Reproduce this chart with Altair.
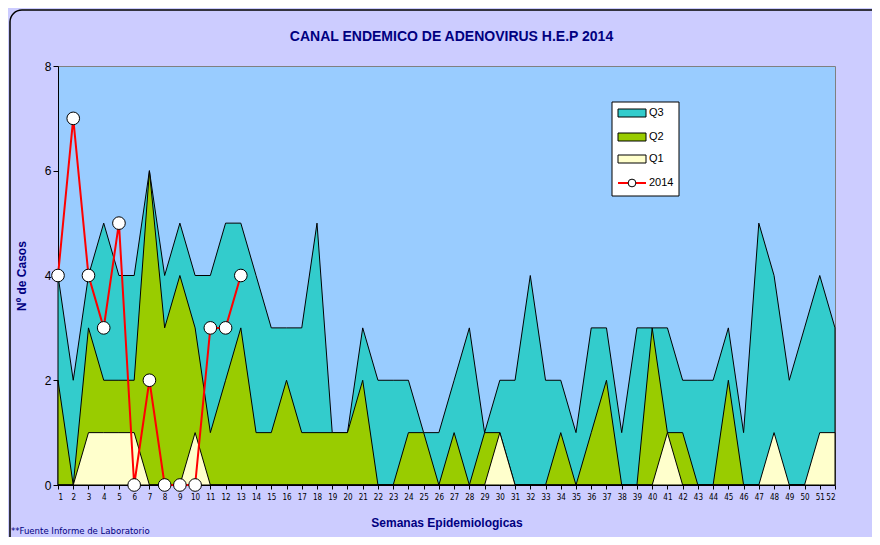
import altair as alt
import pandas as pd

weeks = list(range(1, 53))
q3 = [4, 2, 4, 5, 4, 4, 6, 4, 5, 4, 4, 5, 5, 4, 3, 3, 3, 5, 1, 1,
      3, 2, 2, 2, 1, 1, 2, 3, 1, 2, 2, 4, 2, 2, 1, 3, 3, 1, 3, 3,
      3, 2, 2, 2, 3, 1, 5, 4, 2, 3, 4, 3]
q2 = [2, 0, 3, 2, 2, 2, 6, 3, 4, 3, 1, 2, 3, 1, 1, 2, 1, 1, 1, 1,
      2, 0, 0, 1, 1, 0, 1, 0, 1, 1, 0, 0, 0, 1, 0, 1, 2, 0, 0, 3,
      1, 1, 0, 0, 2, 0, 0, 0, 0, 0, 0, 0]
q1 = [0, 0, 1, 1, 1, 1, 0, 0, 0, 1, 0, 0, 0, 0, 0, 0, 0, 0, 0, 0,
      0, 0, 0, 0, 0, 0, 0, 0, 0, 1, 0, 0, 0, 0, 0, 0, 0, 0, 0, 0,
      1, 0, 0, 0, 0, 0, 0, 1, 0, 0, 1, 1]
weeks_2014 = list(range(1, 14))
cases_2014 = [4, 7, 4, 3, 5, 0, 2, 0, 0, 0, 3, 3, 4]

legend_labels = ["Q3", "Q2", "Q1", "2014"]
colors = {"Q3": "#33CCCC", "Q2": "#99CC00", "Q1": "#FFFFCC"}

W, H = 777, 419
NAVY = "#000080"
FONT = "Liberation Sans, Arial, sans-serif"
NARROW = "'Liberation Sans Narrow', 'Arial Narrow', 'DejaVu Sans Condensed', 'Liberation Sans', sans-serif"

area_df = pd.DataFrame(
    [{"week": w, "serie": "Q3", "v": v} for w, v in zip(weeks, q3)]
    + [{"week": w, "serie": "Q2", "v": v} for w, v in zip(weeks, q2)]
    + [{"week": w, "serie": "Q1", "v": v} for w, v in zip(weeks, q1)]
)
line_df = pd.DataFrame({"week": weeks_2014, "v": cases_2014})
one = pd.DataFrame({"k": [0]})

xs = alt.Scale(domain=[1, 52], nice=False, zero=False)
ys = alt.Scale(domain=[0, 8], nice=False)

x_axis = alt.Axis(values=weeks, labelAngle=0, labelFontSize=8, labelFont=NARROW,
                  labelColor="black", grid=False, domainColor="black", tickColor="black",
                  tickSize=4, title="Semanas Epidemiologicas", titleFont=FONT, titleFontSize=12,
                  titleFontWeight="bold", titleColor=NAVY, titlePadding=16, labelPadding=4,
                  labelOverlap=False)
y_axis = alt.Axis(values=[0, 2, 4, 6, 8], grid=False, domainColor="black", tickColor="black",
                  tickSize=5, labelFontSize=12, labelFont=FONT, labelColor="black",
                  title="Nº de Casos", titleFont=FONT, titleFontSize=12, titleFontWeight="bold",
                  titleColor=NAVY, titlePadding=16)

X = alt.X("week:Q", scale=xs, axis=x_axis)
Y = alt.Y("v:Q", scale=ys, axis=y_axis, stack=None)

layers = []
for s in ["Q3", "Q2", "Q1"]:
    layers.append(
        alt.Chart(area_df).transform_filter(alt.datum.serie == s)
        .mark_area(color=colors[s], stroke="black", strokeWidth=1, opacity=1)
        .encode(x=X, y=Y)
    )

line = alt.Chart(line_df).mark_line(color="#FF0000", strokeWidth=2).encode(x=X, y=Y)
pts = alt.Chart(line_df).mark_point(shape="circle", filled=True, fill="white", stroke="black",
                                    strokeWidth=1, size=160, opacity=1).encode(x=X, y=Y)

# legend (decoration)
deco = []
deco.append(alt.Chart(one).mark_rect(fill="white", stroke="black", strokeWidth=1).encode(
    x=alt.value(554), x2=alt.value(621), y=alt.value(36), y2=alt.value(130)))
item_y = [47, 71, 93, 117]
for lab, yy in zip(legend_labels, item_y):
    if lab in colors:
        deco.append(alt.Chart(one).mark_rect(fill=colors[lab], stroke="black", strokeWidth=1).encode(
            x=alt.value(560), x2=alt.value(588), y=alt.value(yy - 4), y2=alt.value(yy + 4)))
    else:
        deco.append(alt.Chart(one).mark_rule(color="#FF0000", strokeWidth=2).encode(
            x=alt.value(560), x2=alt.value(588), y=alt.value(yy)))
        deco.append(alt.Chart(one).mark_point(shape="circle", filled=True, fill="white", stroke="black",
                                              strokeWidth=1, size=60, opacity=1).encode(
            x=alt.value(574), y=alt.value(yy)))
    deco.append(alt.Chart(one).mark_text(align="left", baseline="middle", fontSize=11, font=FONT,
                                         color="black").encode(
        x=alt.value(591), y=alt.value(yy), text=alt.value(lab)))

# title, outer rounded border and footnote
deco.append(alt.Chart(one).mark_text(align="center", baseline="middle", fontSize=14, font=FONT,
                                     fontWeight="bold", color=NAVY).encode(
    x=alt.value(W / 2 + 5), y=alt.value(-29),
    text=alt.value("CANAL ENDEMICO DE ADENOVIRUS H.E.P 2014")))
deco.append(alt.Chart(one).mark_rect(fill=None, stroke="black", strokeWidth=1.5, cornerRadius=12).encode(
    x=alt.value(-48), x2=alt.value(W + 60), y=alt.value(-56), y2=alt.value(H + 70)))
deco.append(alt.Chart(one).mark_text(align="left", baseline="middle", fontSize=9.5, font=NARROW,
                                     color=NAVY).encode(
    x=alt.value(-47), y=alt.value(H + 46), text=alt.value("**Fuente Informe de Laboratorio")))

chart = alt.layer(*layers, line, pts, *deco).properties(
    width=W, height=H,
    background="#CCCCFF",
    padding={"left": 50, "top": 58, "right": 37, "bottom": 52},
    autosize=alt.AutoSizeParams(type="none"),
).configure_view(fill="#99CCFF", stroke="#808080", strokeWidth=1)

chart.save("out.html", embed_options={"renderer": "svg", "actions": False})
